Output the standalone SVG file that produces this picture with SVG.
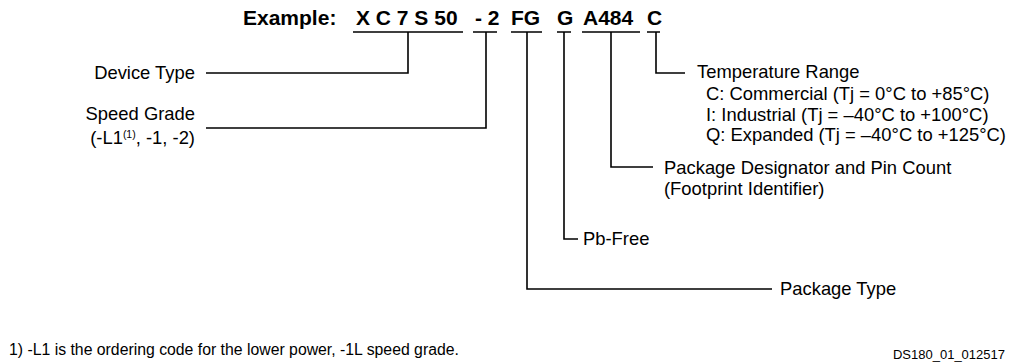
<svg xmlns="http://www.w3.org/2000/svg" width="1010" height="363" viewBox="0 0 1010 363">
<style>
.t{font-family:"Liberation Sans",Arial,sans-serif;font-size:18.4px;fill:#000}
.b{font-family:"Liberation Sans",Arial,sans-serif;font-size:21px;font-weight:bold;fill:#000}
.s{font-family:"Liberation Sans",Arial,sans-serif;font-size:13px;fill:#000}
.f{font-family:"Liberation Sans",Arial,sans-serif;font-size:15.8px;fill:#000}
.ln{fill:none;stroke:#000;stroke-width:1.6}
</style>
<rect width="1010" height="363" fill="#fff"/>
<g id="example">
<text class="b" x="243" y="25">Example:</text>
<text class="b" x="356" y="25" xml:space="preserve">X C 7 S 50</text>
<text class="b" x="475" y="25">- 2</text>
<text class="b" x="511" y="25">FG</text>
<text class="b" x="557" y="25">G</text>
<text class="b" x="583" y="25">A484</text>
<text class="b" x="647" y="25">C</text>
</g>
<g id="device-type"><text class="t" x="195" y="79" text-anchor="end">Device Type</text></g>
<g id="speed-grade"><text class="t" x="195" y="120" text-anchor="end">Speed Grade</text><text class="t" x="195" y="144" text-anchor="end">(-L1<tspan font-size="10.5" dy="-6">(1)</tspan><tspan dy="6">, -1, -2)</tspan></text></g>
<g id="temperature-range"><text class="t" x="697" y="78">Temperature Range</text>
<text class="t" x="706" y="99.5">C: Commercial (Tj = 0°C to +85°C)</text>
<text class="t" x="706" y="120.5">I: Industrial (Tj = –40°C to +100°C)</text>
<text class="t" x="706" y="141">Q: Expanded (Tj = –40°C to +125°C)</text></g>
<g id="package-designator"><text class="t" x="664" y="174">Package Designator and Pin Count</text><text class="t" x="664" y="195">(Footprint Identifier)</text></g>
<g id="pb-free"><text class="t" x="583" y="245">Pb-Free</text></g>
<g id="package-type"><text class="t" x="780" y="295">Package Type</text></g>
<g id="footnote"><text class="f" x="9" y="355">1) -L1 is the ordering code for the lower power, -1L speed grade.</text></g>
<g id="figure-id"><text class="s" x="1005" y="359" text-anchor="end">DS180_01_012517</text></g>
<g id="connectors" class="ln">
<path d="M353 32H463M473 32H497M511 32H542M557 32H571M582 32H640M647 32H660"/>
<path d="M408 32V73H206"/>
<path d="M486 32V128H206"/>
<path d="M656 32V73H685"/>
<path d="M611 32V167H653"/>
<path d="M564 32V239H578"/>
<path d="M527 32V289H772"/>
</g>
</svg>
